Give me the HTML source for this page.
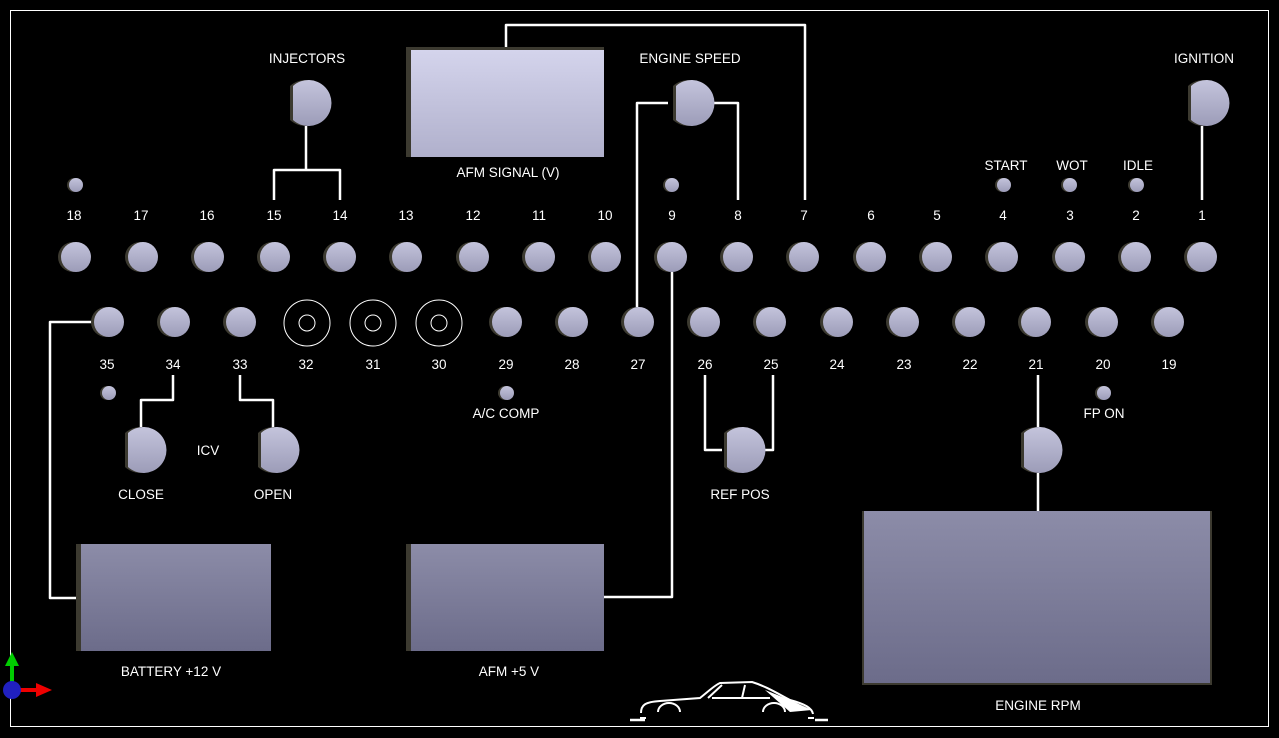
<!DOCTYPE html>
<html><head><meta charset="utf-8"><style>
html,body{margin:0;padding:0;background:#000;}
svg{display:block;}
text{font-family:"Liberation Sans","DejaVu Sans",sans-serif;font-size:13.5px;fill:#fff;text-anchor:middle;}
</style></head><body>
<svg width="1279" height="738" viewBox="0 0 1279 738" xmlns="http://www.w3.org/2000/svg">
<defs>
<linearGradient id="kg" x1="0" y1="0" x2="0" y2="1"><stop offset="0" stop-color="#c4c4dc"/><stop offset="1" stop-color="#9c9cb8"/></linearGradient>
<linearGradient id="rl" x1="0" y1="0" x2="0" y2="1"><stop offset="0" stop-color="#d4d4ec"/><stop offset="1" stop-color="#b0b0cc"/></linearGradient>
<linearGradient id="rd" x1="0" y1="0" x2="0" y2="1"><stop offset="0" stop-color="#8c8ca8"/><stop offset="1" stop-color="#6c6c8a"/></linearGradient>
<g id="k"><circle cx="-3" cy="0" r="15" fill="#3c3a30"/><circle cx="0" cy="0" r="15" fill="url(#kg)"/></g>
<g id="s"><circle cx="-2" cy="0" r="7" fill="#3c3a30"/><circle cx="0" cy="0" r="7" fill="url(#kg)"/></g>
<g id="d"><path d="M-18,-17 A23 23 0 1 1 -18,17 Z" fill="#3c3a30"/><path d="M-15,-17 A23 23 0 1 1 -15,17 Z" fill="url(#kg)"/></g>
<g id="r"><circle r="23" fill="none" stroke="#fff" stroke-width="1"/><circle r="8" fill="none" stroke="#fff" stroke-width="1"/></g>
</defs>
<rect x="10.5" y="10.5" width="1258" height="716" fill="none" stroke="#fff" stroke-width="1"/>
<g fill="none" stroke="#fff" stroke-width="2.5" stroke-linejoin="round">
<path d="M306,125 V170 H274 V200 M306,170 H340 V200"/>
<path d="M506,47 V25 H805 V200"/>
<path d="M637,308 V103 H668 M711,103 H738 V200"/>
<path d="M1202,126 V200"/>
<path d="M94,322 H50 V598 H80"/>
<path d="M173,375 V400 H141 V428"/>
<path d="M240,375 V400 H273 V428"/>
<path d="M705,375 V450 H722 M773,375 V450 H762"/>
<path d="M672,272 V597 H604"/>
<path d="M1038,375 V428 M1038,472 V511"/>
<path d="M630,720 H645 M815,720 H828"/>
</g>
<rect x="406" y="47" width="198" height="110" fill="#3c3a30"/>
<rect x="411" y="50" width="193" height="107" fill="url(#rl)"/>
<rect x="76" y="544" width="195" height="107" fill="#3c3a30"/>
<rect x="81" y="544" width="190" height="107" fill="url(#rd)"/>
<rect x="406" y="544" width="198" height="107" fill="#3c3a30"/>
<rect x="411" y="544" width="193" height="107" fill="url(#rd)"/>
<rect x="862" y="511" width="350" height="174" fill="#3c3a30"/>
<rect x="864" y="511" width="346" height="172" fill="url(#rd)"/>
<use href="#d" x="308" y="103"/><use href="#d" x="691" y="103"/><use href="#d" x="1206" y="103"/>
<use href="#d" x="143" y="450"/><use href="#d" x="276" y="450"/><use href="#d" x="742" y="450"/><use href="#d" x="1039" y="450"/>
<use href="#s" x="76" y="185"/><use href="#s" x="672" y="185"/><use href="#s" x="1004" y="185"/><use href="#s" x="1070" y="185"/><use href="#s" x="1137" y="185"/>
<use href="#s" x="109" y="393"/><use href="#s" x="507" y="393"/><use href="#s" x="1104" y="393"/>
<g>
<use href="#k" x="76" y="257"/><use href="#k" x="143" y="257"/><use href="#k" x="209" y="257"/><use href="#k" x="275" y="257"/><use href="#k" x="341" y="257"/><use href="#k" x="407" y="257"/><use href="#k" x="474" y="257"/><use href="#k" x="540" y="257"/><use href="#k" x="606" y="257"/><use href="#k" x="672" y="257"/><use href="#k" x="738" y="257"/><use href="#k" x="804" y="257"/><use href="#k" x="871" y="257"/><use href="#k" x="937" y="257"/><use href="#k" x="1003" y="257"/><use href="#k" x="1070" y="257"/><use href="#k" x="1136" y="257"/><use href="#k" x="1202" y="257"/>
</g>
<g>
<use href="#k" x="109" y="322"/><use href="#k" x="175" y="322"/><use href="#k" x="241" y="322"/>
<use href="#r" x="307" y="323"/><use href="#r" x="373" y="323"/><use href="#r" x="439" y="323"/>
<use href="#k" x="507" y="322"/><use href="#k" x="573" y="322"/><use href="#k" x="639" y="322"/><use href="#k" x="705" y="322"/><use href="#k" x="771" y="322"/><use href="#k" x="838" y="322"/><use href="#k" x="904" y="322"/><use href="#k" x="970" y="322"/><use href="#k" x="1036" y="322"/><use href="#k" x="1103" y="322"/><use href="#k" x="1169" y="322"/>
</g>
<g>
<text x="74" y="220">18</text><text x="141" y="220">17</text><text x="207" y="220">16</text><text x="274" y="220">15</text><text x="340" y="220">14</text><text x="406" y="220">13</text><text x="473" y="220">12</text><text x="539" y="220">11</text><text x="605" y="220">10</text><text x="672" y="220">9</text><text x="738" y="220">8</text><text x="804" y="220">7</text><text x="871" y="220">6</text><text x="937" y="220">5</text><text x="1003" y="220">4</text><text x="1070" y="220">3</text><text x="1136" y="220">2</text><text x="1202" y="220">1</text>
<text x="107" y="369">35</text><text x="173" y="369">34</text><text x="240" y="369">33</text><text x="306" y="369">32</text><text x="373" y="369">31</text><text x="439" y="369">30</text><text x="506" y="369">29</text><text x="572" y="369">28</text><text x="638" y="369">27</text><text x="705" y="369">26</text><text x="771" y="369">25</text><text x="837" y="369">24</text><text x="904" y="369">23</text><text x="970" y="369">22</text><text x="1036" y="369">21</text><text x="1103" y="369">20</text><text x="1169" y="369">19</text>
<text x="307" y="63">INJECTORS</text><text x="690" y="63">ENGINE SPEED</text><text x="1204" y="63">IGNITION</text>
<text x="508" y="177">AFM SIGNAL (V)</text>
<text x="1006" y="170">START</text><text x="1072" y="170">WOT</text><text x="1138" y="170">IDLE</text>
<text x="506" y="418">A/C COMP</text><text x="1104" y="418">FP ON</text>
<text x="208" y="455">ICV</text><text x="141" y="499">CLOSE</text><text x="273" y="499">OPEN</text><text x="740" y="499">REF POS</text>
<text x="171" y="676">BATTERY +12 V</text><text x="509" y="676">AFM +5 V</text><text x="1038" y="710">ENGINE RPM</text>
</g>
<g fill="none" stroke="#fff" stroke-width="2">
<path d="M641,713 C641,705 645,702 660,701 L700,698 C710,690 715,685 720,683 L752,682 C765,686 775,692 790,700 C805,704 812,708 813,714"/>
<path d="M658,712 A11 9 0 0 1 680,712 M763,712 A11 9 0 0 1 785,712"/>
<path d="M708,698 L722,685 M712,698 H770 M745,685 L742,698"/>
<path d="M640,718 H646 M808,718 H814"/>
</g>
<path d="M765,690 L790,700 L812,710 L790,712 Z" fill="#fff"/>
<path d="M12,690 V660" stroke="#0c0" stroke-width="4"/><path d="M5,666 L12,652 L19,666Z" fill="#0c0"/>
<path d="M12,690 H40" stroke="#e00" stroke-width="4"/><path d="M36,683 L52,690 L36,697Z" fill="#e00"/>
<circle cx="12" cy="690" r="9" fill="#2020c0"/>
</svg>
</body></html>
